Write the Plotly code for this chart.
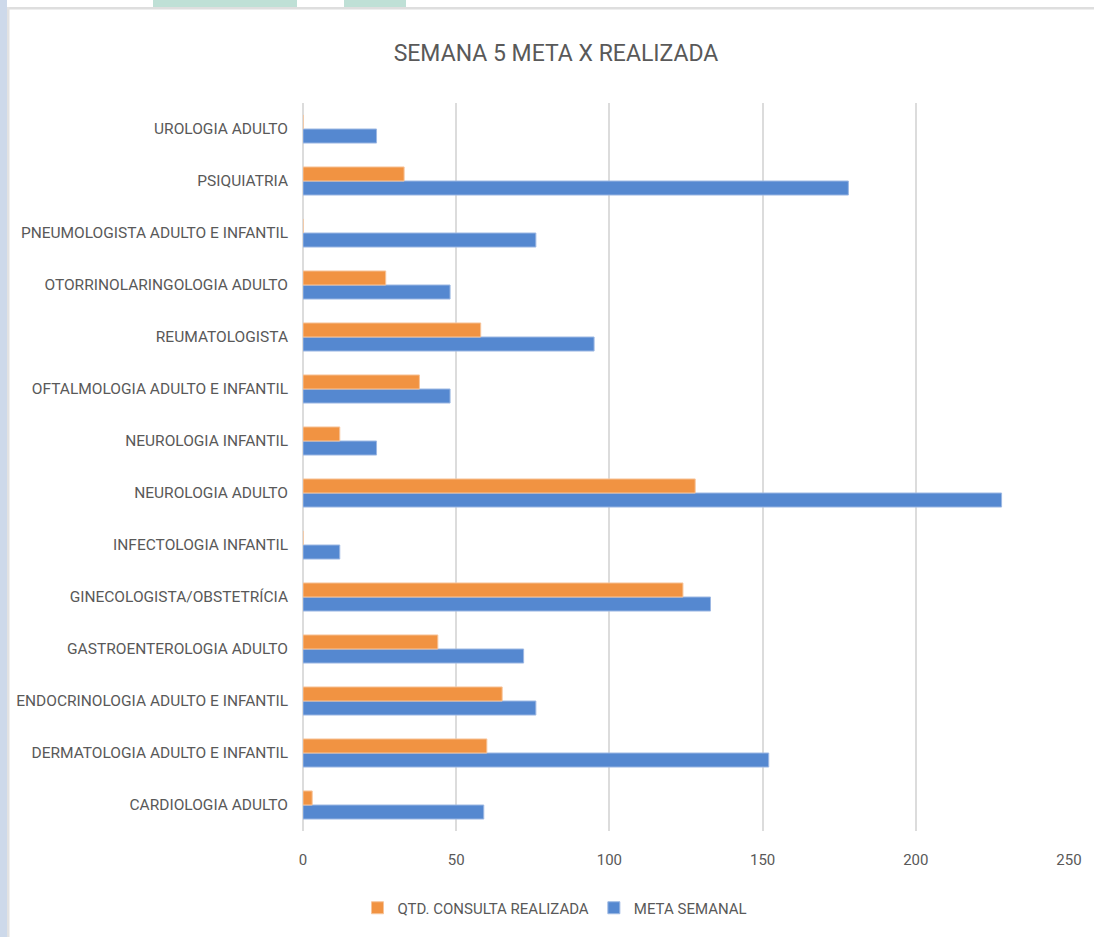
import plotly.graph_objects as go

categories = [
    "CARDIOLOGIA ADULTO",
    "DERMATOLOGIA ADULTO E INFANTIL",
    "ENDOCRINOLOGIA ADULTO E INFANTIL",
    "GASTROENTEROLOGIA ADULTO",
    "GINECOLOGISTA/OBSTETRÍCIA",
    "INFECTOLOGIA INFANTIL",
    "NEUROLOGIA ADULTO",
    "NEUROLOGIA INFANTIL",
    "OFTALMOLOGIA ADULTO E INFANTIL",
    "REUMATOLOGISTA",
    "OTORRINOLARINGOLOGIA ADULTO",
    "PNEUMOLOGISTA ADULTO E INFANTIL",
    "PSIQUIATRIA",
    "UROLOGIA ADULTO",
]
meta_semanal = [59, 152, 76, 72, 133, 12, 228, 24, 48, 95, 48, 76, 178, 24]
qtd_realizada = [3, 60, 65, 44, 124, 0, 128, 12, 38, 58, 27, 0, 33, 0]
x_ticks = [0, 50, 100, 150, 200, 250]

W, H = 1094, 937
ML, MR, MT, MB = 303, 25, 103, 106
PW, PH = W - ML - MR, H - MT - MB

def px(x):
    return (x - ML) / PW

def py(y):
    return (H - MB - y) / PH

FONT = "Roboto, sans-serif"
TXT = "#595959"

fig = go.Figure()
fig.add_trace(go.Bar(
    y=categories, x=meta_semanal, orientation="h", name="META SEMANAL",
    marker=dict(color="#5588D0", line=dict(color="#9DB8E3", width=1)),
    legendrank=2,
))
fig.add_trace(go.Bar(
    y=categories, x=qtd_realizada, orientation="h", name="QTD. CONSULTA REALIZADA",
    marker=dict(color="#F19342", line=dict(color="#F7C49A", width=1)),
    legendrank=1,
))

shapes = [
    dict(type="rect", xref="paper", yref="paper", x0=px(0), x1=px(7), y0=py(0), y1=py(H),
         fillcolor="#CDD9EA", line=dict(width=0), layer="below"),
    dict(type="rect", xref="paper", yref="paper", x0=px(153), x1=px(297), y0=py(0), y1=py(7),
         fillcolor="#BFE0D6", line=dict(width=0), layer="below"),
    dict(type="rect", xref="paper", yref="paper", x0=px(344), x1=px(406), y0=py(0), y1=py(7),
         fillcolor="#BFE0D6", line=dict(width=0), layer="below"),
    dict(type="rect", xref="paper", yref="paper", x0=px(7), x1=px(W), y0=py(7), y1=py(9.5),
         fillcolor="#DEDEDE", line=dict(width=0), layer="below"),
    dict(type="rect", xref="paper", yref="paper", x0=px(7), x1=px(9.5), y0=py(7), y1=py(H),
         fillcolor="#E2E2E2", line=dict(width=0), layer="below"),
]

fig.update_layout(
    width=W, height=H,
    margin=dict(l=ML, r=MR, t=MT, b=MB),
    paper_bgcolor="white", plot_bgcolor="white",
    barmode="group", bargap=0.46, bargroupgap=0,
    title=dict(text="SEMANA 5 META X REALIZADA", x=556 / W, xanchor="center",
               y=1 - 53 / H, yanchor="middle",
               font=dict(family=FONT, size=23, color=TXT)),
    font=dict(family=FONT, size=15, color=TXT),
    xaxis=dict(range=[0, 250], tickvals=x_ticks, showgrid=True, gridcolor="#DCDCDC",
               gridwidth=1.5, zeroline=True, zerolinecolor="#DCDCDC", zerolinewidth=1.5,
               showline=False, ticks="", ticklabelstandoff=18,
               tickfont=dict(family=FONT, size=15, color=TXT), fixedrange=True),
    yaxis=dict(type="category", categoryorder="array", categoryarray=categories,
               showgrid=False, showline=False, ticks="", ticklabelstandoff=14,
               tickfont=dict(family=FONT, size=15.5, color=TXT), fixedrange=True),
    legend=dict(orientation="h", x=px(555), xanchor="center", y=py(908), yanchor="middle",
                font=dict(family=FONT, size=15, color=TXT), itemwidth=30),
    shapes=shapes,
    showlegend=True,
)

fig.write_html(
    "out.html",
    config={"displayModeBar": False},
    post_script="document.body.style.margin='0';document.body.style.overflow='hidden';",
)
